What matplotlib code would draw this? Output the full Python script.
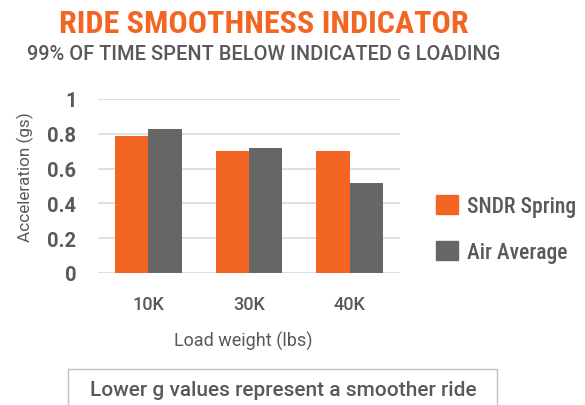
import numpy as np
import matplotlib
matplotlib.use("Agg")
import matplotlib.pyplot as plt
from matplotlib.patches import Rectangle, Patch

categories = ["10K", "30K", "40K"]
sndr_spring = [0.79, 0.70, 0.70]
air_average = [0.83, 0.72, 0.52]

ORANGE = "#F26522"
GRAY = "#666666"
TEXT = "#595959"

COND = ["Roboto Condensed", "Liberation Sans", "DejaVu Sans"]
WIDE = ["Roboto", "Liberation Sans", "DejaVu Sans"]
plt.rcParams["font.family"] = WIDE
plt.rcParams["font.weight"] = 500

fig = plt.figure(figsize=(5.85, 4.06), dpi=100)
ax = fig.add_axes([98 / 585, 1 - 274 / 406, 302 / 585, 174 / 406])

x = np.arange(len(categories))
w = 0.33
ax.bar(x - w / 2, sndr_spring, w, color=ORANGE, label="SNDR Spring", zorder=3)
ax.bar(x + w / 2, air_average, w, color=GRAY, label="Air Average", zorder=3)

ax.set_xlim(-0.5, 2.5)
ax.set_ylim(0, 1)
ax.set_yticks([0, 0.2, 0.4, 0.6, 0.8, 1])
ax.set_yticklabels(["0", "0.2", "0.4", "0.6", "0.8", "1"])
ax.set_xticks(x)
ax.set_xticklabels(categories)
ax.grid(axis="y", color="#D9D9D9", linewidth=1.2, zorder=0)
for s in ax.spines.values():
    s.set_visible(False)
ax.tick_params(axis="both", length=0)
ax.tick_params(axis="y", labelsize=14.5, labelcolor=TEXT, pad=15.5)
ax.tick_params(axis="x", labelsize=13, labelcolor=TEXT, pad=16)
for t in ax.get_yticklabels():
    t.set_fontweight("bold")

ax.set_ylabel("Acceleration (gs)", fontsize=12.3, color=TEXT, va="center")
ax.yaxis.set_label_coords(-0.24, 0.557)
ax.set_xlabel("Load weight (lbs)", fontsize=13, color=TEXT, va="center")
ax.xaxis.set_label_coords(0.48, -0.385)

fig.text(264 / 585, 1 - 24 / 406, "RIDE SMOOTHNESS INDICATOR", ha="center", va="center",
         fontsize=23, fontweight="bold", color=ORANGE, family=COND)
fig.text(264 / 585, 1 - 55 / 406, "99% OF TIME SPENT BELOW INDICATED G LOADING", ha="center",
         va="center", fontsize=14.4, color=TEXT)

ax.legend(handles=[Patch(color=ORANGE, label="SNDR Spring"),
                   Patch(color=GRAY, label="Air Average")],
          loc="upper left", bbox_to_anchor=(436 / 585, 1 - 196 / 406),
          bbox_transform=fig.transFigure, borderpad=0, borderaxespad=0,
          frameon=False, prop={"family": COND, "size": 15.5, "weight": 500},
          labelcolor=TEXT, handlelength=1.0, handleheight=1.0, labelspacing=1.1,
          handletextpad=0.45)

fig.patches.append(Rectangle((68 / 585, -0.02), 429 / 585, 1 - 370 / 406 + 0.02,
                             transform=fig.transFigure, fill=False,
                             edgecolor="#BFBFBF", linewidth=1))
fig.text(283 / 585, 1 - 391 / 406, "Lower g values represent a smoother ride",
         ha="center", va="center", fontsize=15, color=TEXT)

fig.savefig("out.png", dpi=100)
